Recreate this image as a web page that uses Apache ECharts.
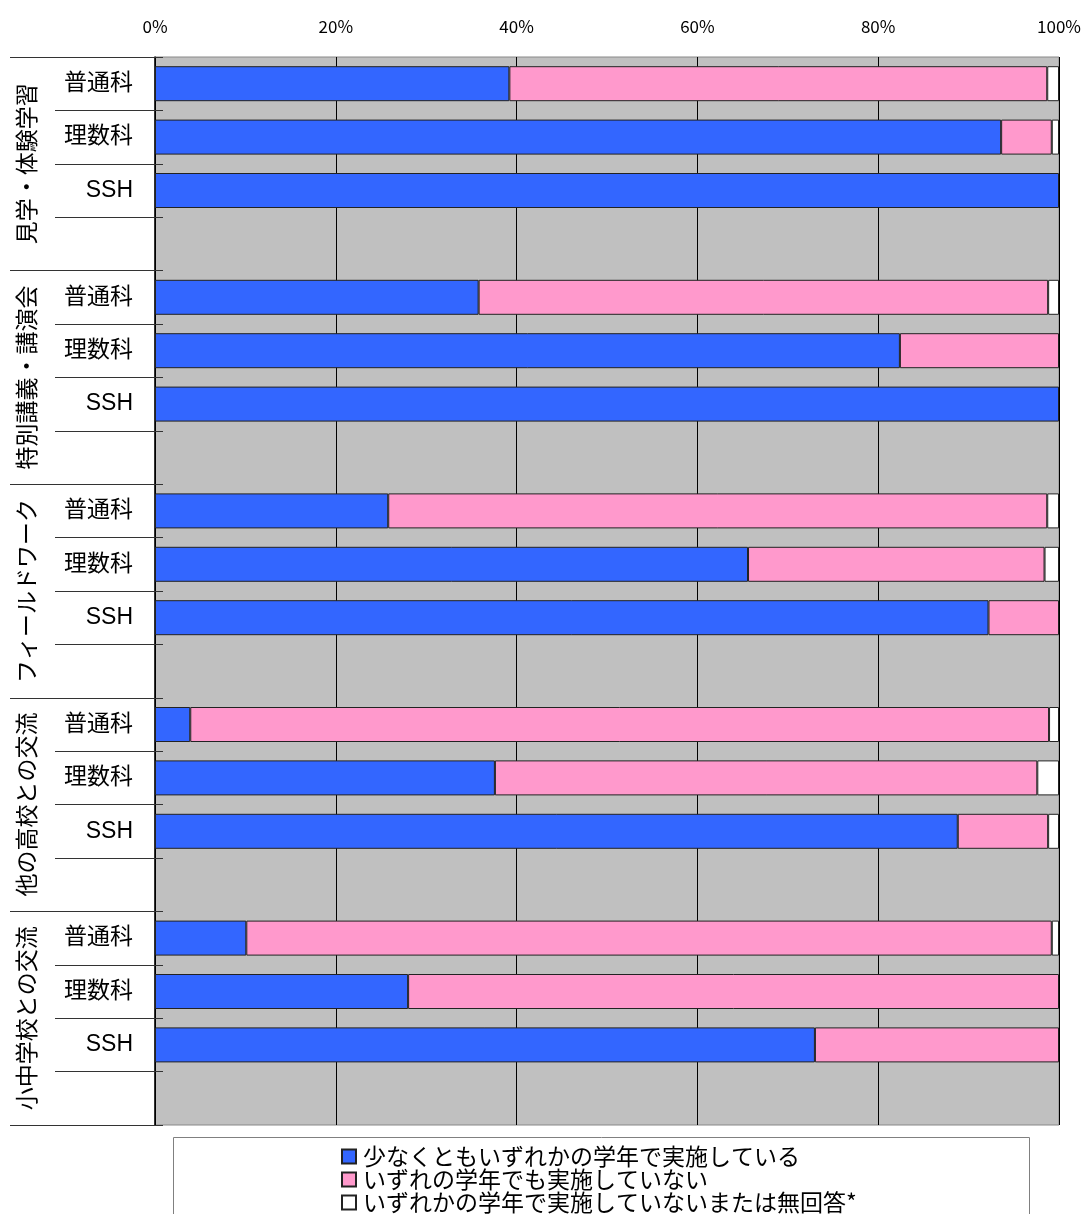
<!DOCTYPE html>
<html>
<head>
<meta charset="utf-8">
<script src="https://cdn.jsdelivr.net/npm/echarts@6/dist/echarts.min.js"></script>
<style>
  html, body { margin: 0; padding: 0; background: #fff; }
  #chart { width: 1087px; height: 1214px; }
</style>
</head>
<body>
<div id="chart"></div>
<script>
// 活動の種類と学科
const groups = ['見学・体験学習', '特別講義・講演会', 'フィールドワーク', '他の高校との交流', '小中学校との交流'];
const courses = ['普通科', '理数科', 'SSH'];
const seriesNames = ['少なくともいずれかの学年で実施している', 'いずれの学年でも実施していない', 'いずれかの学年で実施していないまたは無回答*'];
const xTicks = [0, 20, 40, 60, 80, 100];

// 割合(%)  各グループ: [普通科, 理数科, SSH]
const implemented = [[39.2, 93.6, 100], [35.8, 82.4, 100], [25.8, 65.6, 92.2], [3.9, 37.6, 88.8], [10.1, 28.0, 73.0]];
const notImplemented = [[59.5, 5.6, 0], [63.0, 17.6, 0], [72.9, 32.8, 7.8], [95.0, 60.0, 10.0], [89.1, 72.0, 27.0]];
const noAnswer = [[1.3, 0.8, 0], [1.2, 0, 0], [1.3, 1.6, 0], [1.1, 2.4, 1.2], [0.8, 0, 0]];

const colors = ['#3366ff', '#ff99cc', '#ffffff'];
const font = '"Noto Sans CJK JP", "Noto Sans", sans-serif';
const latinFont = '"Liberation Sans", "Noto Sans CJK JP", sans-serif';

// 各グループ = 3本のバー + 空の行
var rowLabels = [];
groups.forEach(function () {
    courses.forEach(function (c) { rowLabels.push(c); });
    rowLabels.push('');
});

function toRows(arr) {
    var out = [];
    arr.forEach(function (g) {
        g.forEach(function (v) { out.push(v === 0 ? '-' : v); });
        out.push('-');
    });
    return out;
}

var chart = echarts.init(document.getElementById('chart'));

var option = {
    animation: false,
    textStyle: { fontFamily: font },
    grid: {
        left: 155, right: 28, top: 57, bottom: 89,
        outerBoundsMode: 'none',
        show: true,
        backgroundColor: '#c0c0c0',
        borderColor: '#888',
        borderWidth: 1
    },
    xAxis: {
        type: 'value',
        position: 'top',
        min: xTicks[0],
        max: xTicks[xTicks.length - 1],
        interval: 20,
        axisLine: { show: false },
        axisTick: { show: false },
        axisLabel: { formatter: '{value}%', fontSize: 17, color: '#000', margin: 22, fontFamily: font },
        splitLine: { show: true, lineStyle: { color: '#000', width: 1 } }
    },
    yAxis: [
        {
            type: 'category',
            position: 'left',
            data: rowLabels,
            inverse: true,
            axisLine: { show: true, lineStyle: { color: '#000', width: 1.5 } },
            axisTick: { show: true, inside: true, length: 8, interval: 0, lineStyle: { color: '#333' } },
            axisLabel: { fontSize: 23, color: '#000', margin: 22, interval: 0, fontFamily: latinFont }
        },
        {
            type: 'category',
            position: 'left',
            offset: 0,
            data: rowLabels,
            inverse: true,
            axisLine: { show: false },
            axisTick: { show: true, length: 100, interval: 0, lineStyle: { color: '#333' } },
            axisLabel: { show: false }
        },
        {
            type: 'category',
            position: 'left',
            offset: 0,
            data: groups,
            inverse: true,
            axisLine: { show: false },
            axisTick: { show: true, length: 145, interval: 0, lineStyle: { color: '#333' } },
            axisLabel: { fontSize: 23, color: '#000', rotate: 90, margin: 117, interval: 0, fontFamily: font }
        }
    ],
    legend: {
        orient: 'vertical',
        left: 341,
        top: 1145,
        height: 90,
        padding: 0,
        itemWidth: 14,
        itemHeight: 14,
        itemGap: 0,
        icon: 'rect',
        textStyle: { fontSize: 23, color: '#000', lineHeight: 23, fontFamily: font, padding: [0, 0, 0, 2] },
        data: seriesNames
    },
    graphic: [{
        type: 'rect',
        shape: { x: 173.5, y: 1137.5, width: 856, height: 90 },
        style: { fill: 'none', stroke: '#808080', lineWidth: 1 },
        silent: true,
        z: -1
    }],
    series: [implemented, notImplemented, noAnswer].map(function (arr, i) {
        return {
            name: seriesNames[i],
            type: 'bar',
            stack: 'total',
            barWidth: 35,
            yAxisIndex: 0,
            itemStyle: { color: colors[i], borderColor: '#222', borderWidth: 1 },
            data: toRows(arr)
        };
    })
};

chart.setOption(option);
</script>
</body>
</html>
